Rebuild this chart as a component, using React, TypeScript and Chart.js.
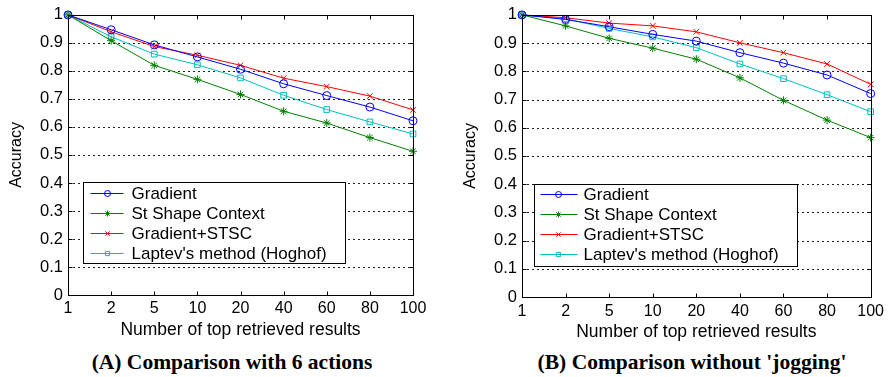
import React, { useEffect, useRef } from 'react';
import { Chart, registerables } from 'chart.js';
import { drawPoint } from 'chart.js/helpers';

Chart.register(...registerables);

const xLabels = ['1', '2', '5', '10', '20', '40', '60', '80', '100'];
const seriesNames = ['Gradient', 'St Shape Context', 'Gradient+STSC', "Laptev's method (Hoghof)"];
const seriesColors = ['#0000ff', '#008000', '#ff0000', '#00bfbf'];
const seriesMarkers = ['circle', 'star', 'crossRot', 'rect'];

const gradientA = [1, 0.947, 0.893, 0.85, 0.806, 0.754, 0.712, 0.671, 0.622];
const stscA = [1, 0.908, 0.82, 0.77, 0.716, 0.656, 0.614, 0.562, 0.513];
const combinedA = [1, 0.94, 0.887, 0.856, 0.82, 0.774, 0.744, 0.71, 0.661];
const laptevA = [1, 0.922, 0.86, 0.822, 0.775, 0.713, 0.662, 0.618, 0.575];

const gradientB = [1, 0.984, 0.958, 0.931, 0.907, 0.866, 0.829, 0.787, 0.721];
const stscB = [1, 0.961, 0.917, 0.882, 0.843, 0.777, 0.697, 0.627, 0.565];
const combinedB = [1, 0.99, 0.971, 0.961, 0.94, 0.901, 0.866, 0.826, 0.754];
const laptevB = [1, 0.986, 0.952, 0.922, 0.884, 0.826, 0.774, 0.717, 0.657];

const SANS = "'Liberation Sans', Arial, sans-serif";

type Layout = {
  padRight: number;
  xAxisHeight: number;
  tickPad: number;
  titlePadBottom: number;
  legendDx: number;
  legendTop: number;
  legendW: number;
  legendH: number;
  legendFirst: number;
  lineStart: number;
  lineEnd: number;
  markerX: number;
  textX: number;
};

function framePlugin(lay: Layout) {
  return {
    id: 'matlabFrame',
    beforeDatasetsDraw(chart: any) {
      const { ctx, chartArea } = chart;
      const ys = chart.scales.y;
      ctx.save();
      ctx.strokeStyle = '#222';
      ctx.lineWidth = 1;
      ctx.setLineDash([2, 3]);
      ys.ticks.forEach((t: any) => {
        if (t.value <= 0.001 || t.value >= 0.999) return;
        const y = Math.round(ys.getPixelForValue(t.value)) + 0.5;
        ctx.beginPath();
        ctx.moveTo(chartArea.left, y);
        ctx.lineTo(chartArea.right, y);
        ctx.stroke();
      });
      ctx.restore();
    },
    afterDatasetsDraw(chart: any) {
      const { ctx, chartArea } = chart;
      const xs = chart.scales.x;
      const ys = chart.scales.y;
      ctx.save();
      ctx.strokeStyle = '#000';
      ctx.lineWidth = 1;
      ctx.setLineDash([]);
      const L = Math.round(chartArea.left) + 0.5;
      const R = Math.round(chartArea.right) + 0.5;
      const T = Math.round(chartArea.top) + 0.5;
      const B = Math.round(chartArea.bottom) + 0.5;
      ctx.strokeRect(L, T, R - L, B - T);
      ctx.beginPath();
      for (let i = 1; i < xLabels.length - 1; i++) {
        const x = Math.round(xs.getPixelForValue(i)) + 0.5;
        ctx.moveTo(x, B);
        ctx.lineTo(x, B - 4);
        ctx.moveTo(x, T);
        ctx.lineTo(x, T + 4);
      }
      ys.ticks.forEach((t: any) => {
        const y = Math.round(ys.getPixelForValue(t.value)) + 0.5;
        ctx.moveTo(L, y);
        ctx.lineTo(L + 4, y);
        ctx.moveTo(R, y);
        ctx.lineTo(R - 4, y);
      });
      ctx.stroke();

      // legend box
      const bx = Math.round(chartArea.left + lay.legendDx) + 0.5;
      const by = lay.legendTop + 0.5;
      ctx.fillStyle = '#fff';
      ctx.fillRect(bx, by, lay.legendW, lay.legendH);
      ctx.strokeStyle = '#000';
      ctx.strokeRect(bx, by, lay.legendW, lay.legendH);
      ctx.font = `17px ${SANS}`;
      ctx.textBaseline = 'middle';
      ctx.textAlign = 'left';
      chart.data.datasets.forEach((ds: any, i: number) => {
        const y = Math.round(by + lay.legendFirst + i * 20.3) + 0.5;
        ctx.strokeStyle = ds.borderColor;
        ctx.lineWidth = 1;
        ctx.beginPath();
        ctx.moveTo(bx + lay.lineStart, y);
        ctx.lineTo(bx + lay.lineEnd, y);
        ctx.stroke();
        ctx.fillStyle = 'rgba(0,0,0,0)';
        drawPoint(ctx, { pointStyle: ds.pointStyle, radius: 3, rotation: 0, borderWidth: 1 }, bx + lay.markerX, y);
        ctx.fillStyle = '#000';
        ctx.fillText(ds.label, bx + lay.textX, y + 1);
      });
      ctx.restore();
    },
  };
}

function makeConfig(values: number[][], lay: Layout): any {
  return {
    type: 'line',
    data: {
      labels: xLabels,
      datasets: values.map((v, i) => ({
        label: seriesNames[i],
        data: v,
        borderColor: seriesColors[i],
        backgroundColor: 'rgba(0,0,0,0)',
        pointBorderColor: seriesColors[i],
        pointBackgroundColor: 'rgba(0,0,0,0)',
        borderWidth: 1,
        pointStyle: seriesMarkers[i],
        pointRadius: 4,
        pointBorderWidth: 1,
        tension: 0,
        clip: false,
      })),
    },
    options: {
      responsive: false,
      animation: false,
      events: [],
      layout: { autoPadding: false, padding: { top: 7, right: lay.padRight, left: 0, bottom: 0 } },
      plugins: { legend: { display: false }, tooltip: { enabled: false } },
      scales: {
        x: {
          type: 'category',
          offset: false,
          grid: { display: false, drawTicks: false },
          border: { display: false },
          ticks: {
            color: '#000',
            font: { family: SANS, size: 16 },
            padding: lay.tickPad,
            maxRotation: 0,
            autoSkip: false,
          },
          title: {
            display: true,
            text: 'Number of top retrieved results',
            color: '#000',
            font: { family: SANS, size: 17.5 },
            padding: { top: 0, bottom: lay.titlePadBottom },
          },
          afterFit: (s: any) => {
            s.height = lay.xAxisHeight;
          },
        },
        y: {
          min: 0,
          max: 1,
          grid: { display: false, drawTicks: false },
          border: { display: false },
          ticks: {
            stepSize: 0.1,
            color: '#000',
            font: { family: SANS, size: 16.5 },
            padding: 5,
            callback: (v: any) => String(Number(Number(v).toFixed(1))),
          },
          title: {
            display: true,
            text: 'Accuracy',
            color: '#000',
            font: { family: SANS, size: 16 },
            padding: { top: 7, bottom: 0 },
          },
          afterFit: (s: any) => {
            s.width = 68;
          },
        },
      },
    },
    plugins: [framePlugin(lay)],
  };
}

const layoutA: Layout = {
  padRight: 27,
  xAxisHeight: 50,
  tickPad: 4,
  titlePadBottom: 4,
  legendDx: 15,
  legendTop: 182,
  legendW: 262,
  legendH: 81,
  legendFirst: 10,
  lineStart: 7,
  lineEnd: 40,
  markerX: 24,
  textX: 48,
};

const layoutB: Layout = {
  padRight: 17,
  xAxisHeight: 48,
  tickPad: 5,
  titlePadBottom: 2,
  legendDx: 12,
  legendTop: 184,
  legendW: 263,
  legendH: 82,
  legendFirst: 9,
  lineStart: 6,
  lineEnd: 43,
  markerX: 24,
  textX: 49,
};

function Panel({ values, lay, left, width }: { values: number[][]; lay: Layout; left: number; width: number }) {
  const ref = useRef<HTMLCanvasElement | null>(null);
  useEffect(() => {
    if (!ref.current) return;
    const chart = new Chart(ref.current, makeConfig(values, lay));
    return () => chart.destroy();
  }, []);
  return (
    <canvas
      ref={ref}
      width={width}
      height={345}
      style={{ position: 'absolute', left, top: 0, width, height: 345 }}
    />
  );
}

const captionStyle: React.CSSProperties = {
  position: 'absolute',
  top: 350,
  height: 24,
  lineHeight: '24px',
  textAlign: 'center',
  fontFamily: "'Liberation Serif', 'Times New Roman', serif",
  fontWeight: 'bold',
  fontSize: 21.5,
  color: '#000',
  whiteSpace: 'nowrap',
};

export default function App() {
  return (
    <div style={{ position: 'absolute', left: 0, top: 0, width: 889, height: 377, background: '#fff', overflow: 'hidden' }}>
      <Panel values={[gradientA, stscA, combinedA, laptevA]} lay={layoutA} left={0} width={440} />
      <Panel values={[gradientB, stscB, combinedB, laptevB]} lay={layoutB} left={454} width={435} />
      <div style={{ ...captionStyle, left: 62, width: 340 }}>(A) Comparison with 6 actions</div>
      <div style={{ ...captionStyle, left: 502, width: 380 }}>(B) Comparison without 'jogging'</div>
    </div>
  );
}
